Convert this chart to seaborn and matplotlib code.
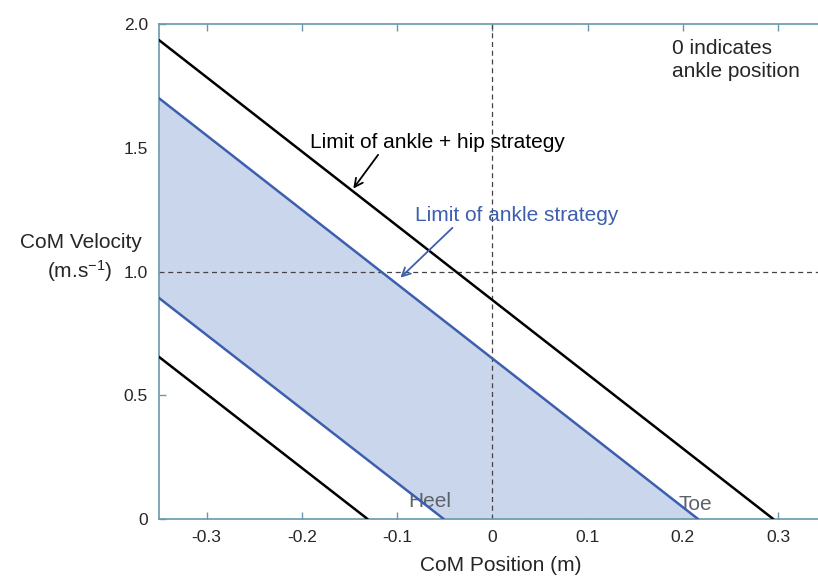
import numpy as np
import pandas as pd
import matplotlib
matplotlib.use("Agg")
import matplotlib.pyplot as plt
import seaborn as sns

# stability limits (end points of each straight line)
hip_upper_x = [-0.35, 0.295]
hip_upper_y = [1.935, 0.0]
hip_lower_x = [-0.35, -0.131]
hip_lower_y = [0.655, 0.0]
ankle_upper_x = [-0.35, 0.216]
ankle_upper_y = [1.70, 0.0]
ankle_lower_x = [-0.35, -0.051]
ankle_lower_y = [0.893, 0.0]

x_ticks = [-0.3, -0.2, -0.1, 0, 0.1, 0.2, 0.3]
x_tick_labels = ["-0.3", "-0.2", "-0.1", "0", "0.1", "0.2", "0.3"]
y_ticks = [0, 0.5, 1.0, 1.5, 2.0]
y_tick_labels = ["0", "0.5", "1.0", "1.5", "2.0"]

sns.set_style("ticks")
plt.rcParams["font.family"] = ["Liberation Sans", "DejaVu Sans"]
plt.rcParams["mathtext.fontset"] = "custom"
plt.rcParams["mathtext.rm"] = "Liberation Sans"
plt.rcParams["mathtext.it"] = "Liberation Sans:italic"
plt.rcParams["mathtext.bf"] = "Liberation Sans:bold"

spine_col = "#6a98ab"
blue = "#3d5fae"
fill_col = "#c9d6ec"

fig = plt.figure(figsize=(8.18, 5.77), dpi=100)
ax = fig.add_axes([159 / 818, 58 / 577, (818 - 159) / 818, (519 - 24) / 577])

# shaded region between the ankle strategy limits
xs = np.linspace(ankle_upper_x[0], ankle_upper_x[1], 200)
upper = np.interp(xs, ankle_upper_x, ankle_upper_y)
lower = np.clip(np.interp(xs, ankle_lower_x, ankle_lower_y, right=0.0), 0, None)
ax.fill_between(xs, lower, upper, color=fill_col, linewidth=0, zorder=1)

lines = [
    (hip_upper_x, hip_upper_y, "black"),
    (hip_lower_x, hip_lower_y, "black"),
    (ankle_upper_x, ankle_upper_y, blue),
    (ankle_lower_x, ankle_lower_y, blue),
]
for lx, ly, c in lines:
    df = pd.DataFrame({"x": lx, "y": ly})
    sns.lineplot(data=df, x="x", y="y", color=c, linewidth=1.8, ax=ax, zorder=3)

ax.axvline(0, color="#444444", linestyle=(0, (4, 3)), linewidth=0.9, zorder=2)
ax.axhline(1.0, color="#444444", linestyle=(0, (4, 3)), linewidth=0.9, zorder=2)

ax.set_xlim(-0.35, 0.342)
ax.set_ylim(0, 2.0)
ax.set_xticks(x_ticks)
ax.set_xticklabels(x_tick_labels)
ax.set_yticks(y_ticks)
ax.set_yticklabels(y_tick_labels)
ax.tick_params(direction="in", length=5, width=1, color=spine_col,
               labelsize=12.5, top=True, pad=8)
for s in ["left", "bottom", "top"]:
    ax.spines[s].set_color(spine_col)
    ax.spines[s].set_linewidth(1.2)
ax.spines["right"].set_visible(False)

ax.set_xlabel("CoM Position (m)", fontsize=15, va="center")
ax.xaxis.set_label_coords(0.519, -0.093)
# y label is two separate lines, horizontal, left of the axis
ax.set_ylabel("CoM Velocity", fontsize=15, rotation=0, ha="center", va="center")
ax.yaxis.set_label_coords(-0.118, 0.558)
ax.text(-0.12, 0.501, "(m.s$^{\\mathrm{-1}}$)", transform=ax.transAxes,
        fontsize=15, ha="center", va="center")

ax.annotate("Limit of ankle + hip strategy", xy=(-0.146, 1.335), xytext=(-0.191, 1.523),
            fontsize=15, color="black", va="center", ha="left",
            arrowprops=dict(arrowstyle="->", color="black", lw=1.3,
                            shrinkA=0, shrinkB=0, relpos=(0.275, 0)))
ax.annotate("Limit of ankle strategy", xy=(-0.0965, 0.975), xytext=(-0.081, 1.228),
            fontsize=15, color=blue, va="center", ha="left",
            arrowprops=dict(arrowstyle="->", color=blue, lw=1.3,
                            shrinkA=0, shrinkB=0, relpos=(0.2, 0)))
ax.text(0.189, 1.94, "0 indicates\nankle position", fontsize=15, va="top",
        ha="left", linespacing=1.25)
ax.text(-0.088, 0.069, "Heel", fontsize=15, color="#5c6368", va="center", ha="left", zorder=2)
ax.text(0.195, 0.057, "Toe", fontsize=15, color="#5c6368", va="center", ha="left", zorder=2)

fig.savefig("out.png", dpi=100)
